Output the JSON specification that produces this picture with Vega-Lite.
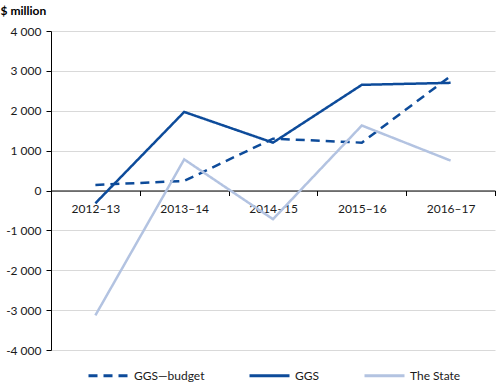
{
  "$schema": "https://vega.github.io/schema/vega-lite/v6.json",
  "width": 444,
  "height": 319,
  "autosize": "none",
  "padding": {"left": 51, "top": 31, "right": 9, "bottom": 42},
  "config": {
    "view": {"stroke": null},
    "font": "Lato",
    "axis": {"labelFont": "Lato", "labelFontSize": 12, "labelColor": "#1a1a1a", "titleFont": "Lato"}
  },
  "data": {
    "values": [
      {"year": "2012–13", "series": "GGS—budget", "value": 140},
      {"year": "2013–14", "series": "GGS—budget", "value": 240},
      {"year": "2014–15", "series": "GGS—budget", "value": 1300},
      {"year": "2015–16", "series": "GGS—budget", "value": 1200},
      {"year": "2016–17", "series": "GGS—budget", "value": 2870},
      {"year": "2012–13", "series": "GGS", "value": -320},
      {"year": "2013–14", "series": "GGS", "value": 1970},
      {"year": "2014–15", "series": "GGS", "value": 1200},
      {"year": "2015–16", "series": "GGS", "value": 2650},
      {"year": "2016–17", "series": "GGS", "value": 2700},
      {"year": "2012–13", "series": "The State", "value": -3130},
      {"year": "2013–14", "series": "The State", "value": 780},
      {"year": "2014–15", "series": "The State", "value": -720},
      {"year": "2015–16", "series": "The State", "value": 1630},
      {"year": "2016–17", "series": "The State", "value": 750}
    ]
  },
  "mark": {"type": "line", "strokeWidth": 2.5},
  "encoding": {
    "x": {
      "field": "year",
      "type": "ordinal",
      "scale": {"type": "band", "paddingInner": 0, "paddingOuter": 0},
      "axis": {
        "title": null,
        "labelAngle": 0,
        "offset": -159.5,
        "domainColor": "#000",
        "domainWidth": 1,
        "tickColor": "#000",
        "tickSize": 5,
        "tickBand": "extent",
        "labelPadding": 8,
        "grid": false
      }
    },
    "y": {
      "field": "value",
      "type": "quantitative",
      "scale": {"domain": [-4000, 4000], "nice": false},
      "axis": {
        "values": [-4000, -3000, -2000, -1000, 0, 1000, 2000, 3000, 4000],
        "labelExpr": "(datum.value < 0 ? '-' : '') + replace(format(abs(datum.value), ','), ',', ' ')",
        "title": "$ million",
        "titleAngle": 0,
        "titleAlign": "left",
        "titleBaseline": "bottom",
        "titleX": -51,
        "titleY": -14,
        "titleFontSize": 12,
        "titleFontWeight": "bold",
        "titleColor": "#000",
        "domainColor": "#000",
        "tickColor": "#000",
        "tickSize": 5,
        "labelPadding": 5,
        "gridColor": "#d9d9d9",
        "gridWidth": 1
      }
    },
    "color": {
      "field": "series",
      "type": "nominal",
      "scale": {"domain": ["GGS—budget", "GGS", "The State"], "range": ["#0d4b9a", "#0d4b9a", "#b3c3e1"]},
      "legend": {
        "title": null,
        "orient": "none",
        "legendX": 36,
        "legendY": 323,
        "direction": "horizontal",
        "symbolType": "stroke",
        "symbolSize": 1600,
        "symbolStrokeWidth": 3,
        "labelFont": "Lato",
        "labelFontSize": 12,
        "labelColor": "#1a1a1a",
        "columnPadding": 38,
        "labelOffset": 4
      }
    },
    "strokeDash": {
      "field": "series",
      "type": "nominal",
      "scale": {"domain": ["GGS—budget", "GGS", "The State"], "range": [[9, 6], [1, 0], [1, 0]]},
      "legend": {
        "title": null,
        "orient": "none",
        "legendX": 36,
        "legendY": 323,
        "direction": "horizontal",
        "symbolType": "stroke",
        "symbolSize": 1600,
        "symbolStrokeWidth": 3,
        "labelFont": "Lato",
        "labelFontSize": 12,
        "labelColor": "#1a1a1a",
        "columnPadding": 38,
        "labelOffset": 4
      }
    }
  }
}
